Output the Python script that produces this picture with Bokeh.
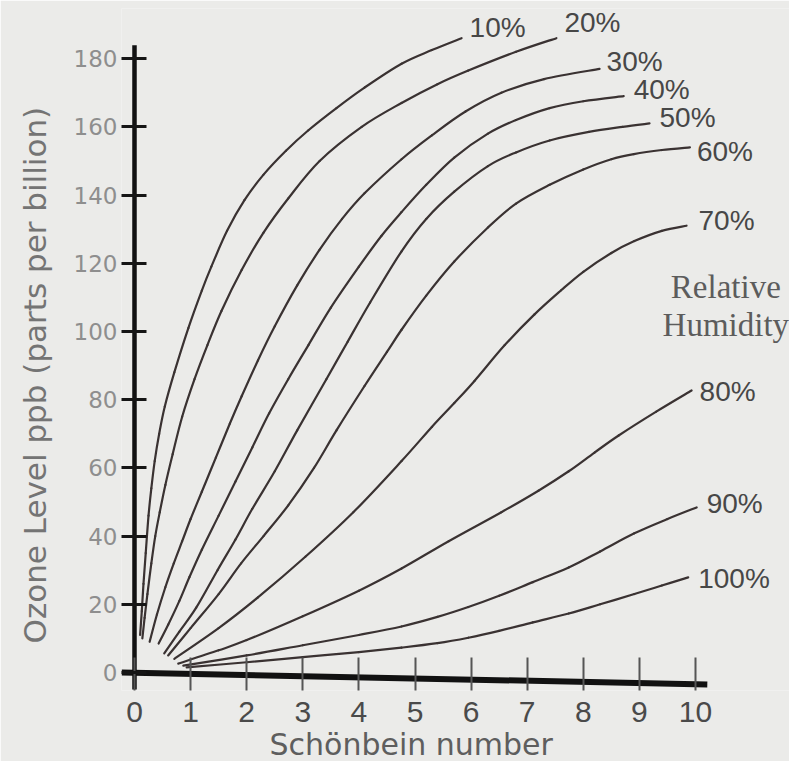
from bokeh.plotting import figure
from bokeh.models import Range1d, FixedTicker, ColumnDataSource, Title
from bokeh.embed import file_html
from bokeh.resources import INLINE
from bokeh.core.properties import value

# ---------------- data ----------------
x_ticks = [0, 1, 2, 3, 4, 5, 6, 7, 8, 9, 10]
y_ticks = [0, 20, 40, 60, 80, 100, 120, 140, 160, 180]

rh_labels = ["10%", "20%", "30%", "40%", "50%", "60%", "70%", "80%", "90%", "100%"]

x_10 = [0.10, 0.13, 0.16, 0.20, 0.25, 0.30, 0.36, 0.44, 0.54, 0.71, 0.96, 1.20, 1.37, 1.65, 1.96, 2.30, 2.70, 3.10, 3.60, 4.10, 4.76, 5.30, 5.83]
y_10 = [11, 18, 26, 35, 46, 54, 62, 70, 78, 88, 101, 112, 119, 129.5, 138.5, 146, 153, 159, 165.5, 171.5, 178.5, 182.5, 186]

x_20 = [0.14, 0.18, 0.23, 0.30, 0.37, 0.45, 0.55, 0.68, 0.85, 1.07, 1.30, 1.55, 1.91, 2.30, 2.74, 3.30, 4.05, 4.76, 5.40, 5.95, 6.80, 7.52]
y_20 = [10, 16, 23, 32, 40, 47, 55, 64, 75, 86, 96, 106, 118, 129, 139, 150, 160, 167, 172.5, 176.5, 182, 186]

x_30 = [0.27, 0.40, 0.55, 0.70, 0.85, 1.00, 1.20, 1.45, 1.70, 1.91, 2.20, 2.50, 2.90, 3.30, 3.70, 4.10, 4.76, 5.30, 5.90, 6.54, 7.30, 8.29]
y_30 = [9, 17, 25, 32, 38.5, 45, 53, 63, 73, 81, 91.5, 101.5, 113.5, 124, 133, 140.5, 150.5, 157.5, 164.5, 170, 174, 177]

x_40 = [0.43, 0.60, 0.80, 0.98, 1.20, 1.50, 1.80, 2.10, 2.40, 2.74, 3.10, 3.50, 4.00, 4.40, 4.76, 5.20, 5.70, 6.30, 6.80, 7.40, 8.00, 8.72]
y_40 = [8.5, 14, 21, 28, 36, 46, 56, 66, 76, 86, 96, 107, 119, 128, 135, 143, 151, 158, 162, 165.5, 167.5, 169]

x_50 = [0.53, 0.80, 1.10, 1.48, 1.80, 2.10, 2.50, 2.90, 3.42, 3.80, 4.20, 4.76, 5.20, 5.70, 6.30, 6.80, 7.40, 8.10, 8.70, 9.18]
y_50 = [5.6, 12, 19, 30, 39, 48, 59, 71, 86, 97, 108.5, 123.5, 133, 141, 148.5, 152.5, 156, 158.5, 160, 161]

x_60 = [0.60, 1.00, 1.50, 1.90, 2.30, 2.74, 3.20, 3.60, 4.10, 4.50, 4.76, 5.20, 5.70, 6.30, 6.80, 7.40, 8.00, 8.50, 8.90, 9.40, 9.90]
y_60 = [5, 13, 23, 32, 40, 49, 60, 71, 84, 94, 100.5, 110.5, 120.5, 130.5, 137.5, 143, 147.5, 150.5, 152, 153.2, 154]

x_70 = [0.71, 1.50, 2.20, 3.05, 3.90, 4.76, 5.30, 5.70, 6.06, 6.60, 7.13, 7.60, 8.00, 8.50, 8.91, 9.40, 9.84]
y_70 = [4, 13, 22, 34, 47, 62, 72, 79, 85.5, 96, 105, 112, 117.5, 123, 126.5, 129.5, 131]

x_80 = [0.78, 1.50, 2.00, 3.00, 4.00, 4.76, 5.60, 6.54, 7.20, 7.74, 8.20, 8.63, 9.30, 9.93]
y_80 = [2.6, 6.5, 9.5, 16.5, 24, 30.5, 38.5, 47, 53.3, 59, 64.5, 69.5, 76.5, 82.7]

x_90 = [0.87, 2.00, 3.00, 4.00, 4.76, 5.40, 5.95, 6.50, 7.10, 7.74, 8.30, 8.91, 9.50, 10.02]
y_90 = [2, 5, 8, 11, 13.5, 16.3, 19.2, 22.5, 26.5, 30.8, 35.5, 40.8, 45, 48.4]

x_100 = [0.93, 2.00, 3.00, 4.00, 4.76, 5.40, 5.95, 6.50, 7.10, 7.74, 8.30, 8.91, 9.40, 9.87]
y_100 = [1.5, 3, 4.5, 6, 7.3, 8.6, 10.2, 12.2, 14.7, 17.3, 20, 23, 25.5, 27.9]

series_x = [x_10, x_20, x_30, x_40, x_50, x_60, x_70, x_80, x_90, x_100]
series_y = [y_10, y_20, y_30, y_40, y_50, y_60, y_70, y_80, y_90, y_100]

# label offsets from each curve end (screen pixels) -- styling, not data
label_dx = [8, 8, 7, 10, 10, 7, 12, 8, 10, 10]
label_dy = [-11, -16, -7, -7, -6, 4, -5, 1, -4, 1]

# ---------------- figure ----------------
PAPER = "#ebebe9"
INK = "#3a3232"

p = figure(frame_width=669, frame_height=682,
           x_range=Range1d(-0.2317, 11.693), y_range=Range1d(-5.28, 194.7),
           output_backend="svg", toolbar_location=None,
           min_border_left=120, min_border_right=0, min_border_top=8, min_border_bottom=10)

p.background_fill_color = PAPER
p.border_fill_color = PAPER
p.outline_line_color = None
p.xgrid.grid_line_color = None
p.ygrid.grid_line_color = None

ya = p.yaxis[0]
ya.ticker = FixedTicker(ticks=y_ticks)
ya.axis_line_color = None
ya.major_tick_in = 25
ya.major_tick_out = 0
ya.major_tick_line_width = 3
ya.major_tick_line_color = "#151515"
ya.minor_tick_line_color = None
ya.major_label_standoff = 4
ya.major_label_text_font = "DejaVu Sans"
ya.major_label_text_font_size = "23px"
ya.major_label_text_color = "#8e8e8e"

xa = p.xaxis[0]
xa.ticker = FixedTicker(ticks=x_ticks)
xa.axis_line_color = None
xa.major_tick_in = 33
xa.major_tick_out = 0
xa.major_tick_line_width = 2
xa.major_tick_line_color = "#555555"
xa.minor_tick_line_color = None
xa.major_label_standoff = 11
xa.major_label_text_font = "Liberation Sans"
xa.major_label_text_font_size = "30px"
xa.major_label_text_color = "#4a4a4a"

# axis titles, placed off-centre like the original
xtitle = Title(text="Schönbein number", align="left", offset=148,
               text_font="DejaVu Sans", text_font_size="30px", text_font_style="normal",
               text_color="#5e5e5e", standoff=0)
p.add_layout(xtitle, "below")

ytitle = Title(text="Ozone Level ppb (parts per billion)", align="left", offset=47,
               vertical_align="top", standoff=32,
               text_font="DejaVu Sans", text_font_size="31px", text_font_style="normal",
               text_color="#747474")
p.add_layout(ytitle, "left")

# heavy axis lines
p.line(x=[0, 0], y=[-5, 183.9], line_width=4.5, line_color="#111111")
p.line(x=[-0.23, 10.21], y=[0, -3.5], line_width=6, line_color="#111111")

# curves: drawn smoothly through the read points (Catmull-Rom as cubic Beziers)
for xs, ys in zip(series_x, series_y):
    n = len(xs)
    bx0, by0, bx1, by1, c0x, c0y, c1x, c1y = [], [], [], [], [], [], [], []
    for i in range(n - 1):
        im = max(i - 1, 0)
        ip = min(i + 2, n - 1)
        bx0.append(xs[i]); by0.append(ys[i])
        bx1.append(xs[i + 1]); by1.append(ys[i + 1])
        c0x.append(xs[i] + (xs[i + 1] - xs[im]) / 6.0)
        c0y.append(ys[i] + (ys[i + 1] - ys[im]) / 6.0)
        c1x.append(xs[i + 1] - (xs[ip] - xs[i]) / 6.0)
        c1y.append(ys[i + 1] - (ys[ip] - ys[i]) / 6.0)
    p.bezier(x0=bx0, y0=by0, x1=bx1, y1=by1, cx0=c0x, cy0=c0y, cx1=c1x, cy1=c1y,
             line_width=2.2, line_color=INK, line_cap="round")

# percentage labels at curve ends
lab = ColumnDataSource(dict(
    x=[xs[-1] for xs in series_x],
    y=[ys[-1] for ys in series_y],
    text=rh_labels, dx=label_dx, dy=label_dy))
p.text(x="x", y="y", text="text", source=lab, x_offset="dx", y_offset="dy",
       text_font=value("Liberation Sans"), text_font_size="28px",
       text_color="#474747", text_align="left", text_baseline="middle")

# Relative Humidity caption
p.text(x=[10.54, 10.54], y=[112.9, 102.0], text=["Relative", "Humidity"],
       text_font=value("Liberation Serif"), text_font_size="33px",
       text_color="#5c5c5c", text_align="center", text_baseline="middle")

open("out.html", "w").write(file_html(p, INLINE))
